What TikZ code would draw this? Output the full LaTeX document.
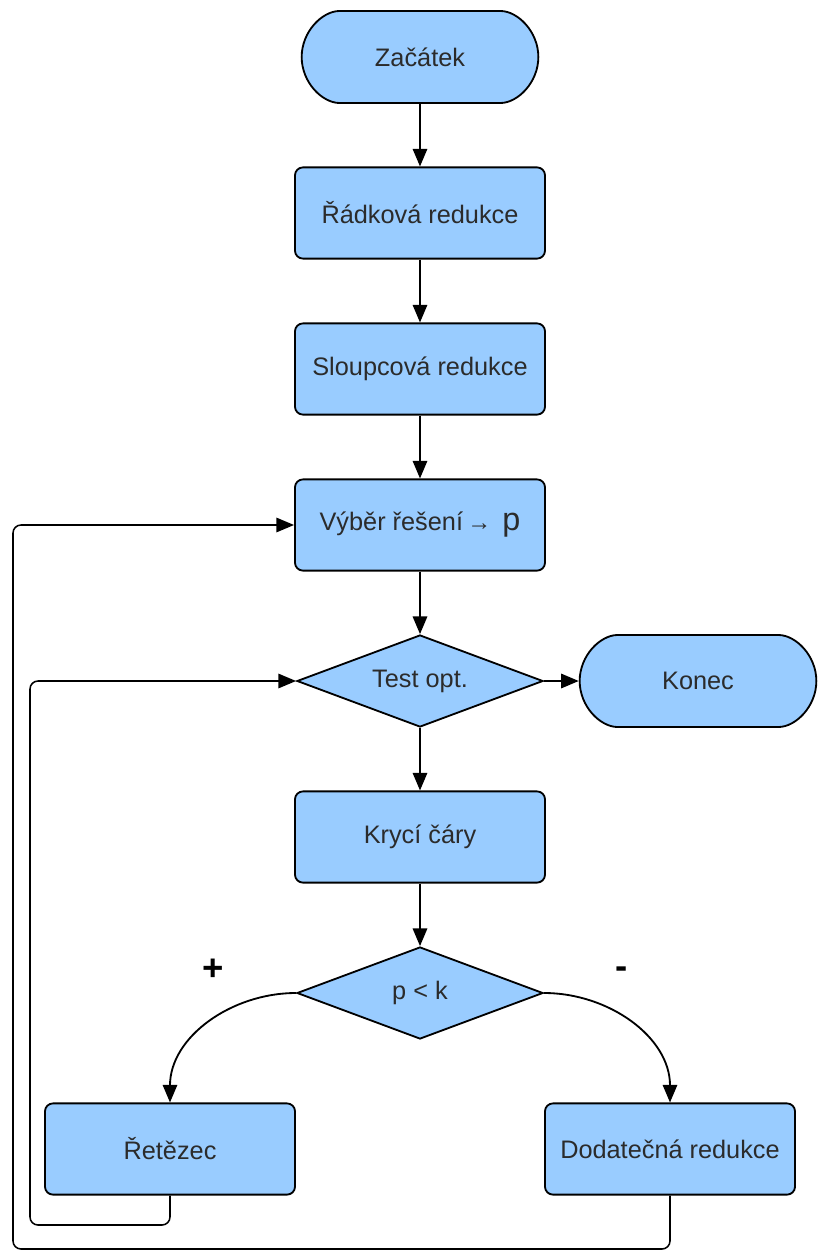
\documentclass[tikz,border=0pt]{standalone}
\usepackage{fontspec}
\setmainfont{Liberation Sans}
\usetikzlibrary{shapes.geometric,shapes.misc,arrows.meta}

\definecolor{boxblue}{HTML}{99CCFF}
\definecolor{boxtext}{HTML}{2B2B2B}

\begin{document}
\begin{tikzpicture}[x=0.025cm,y=-0.025cm]

		% INPUTS:
		\newcommand{\boxw}{6.25cm};		% width of the blocks
		\newcommand{\boxh}{2.28cm};		% height of the blocks
		\newcommand{\midx}{420};		% main column

		% styles
		\tikzstyle{block}=[draw,line width=1.3pt,fill=boxblue,rounded corners=0.2cm,minimum width=\boxw,minimum height=\boxh,text=boxtext,font=\fontsize{18}{21}\selectfont];
		\tikzstyle{terminal}=[block,rounded rectangle,minimum width=6.15cm,minimum height=2.3cm];
		\tikzstyle{decision}=[draw,line width=1.3pt,fill=boxblue,diamond,aspect=2.7,inner sep=0pt,minimum width=6.15cm,minimum height=2.3cm,text=boxtext,font=\fontsize{18}{21}\selectfont];
		\tikzstyle{flow}=[line width=1.3pt,-{Triangle[length=0.44cm,width=0.36cm]}];
		\tikzstyle{loop}=[line width=1.1pt,rounded corners=0.2cm];

		\useasboundingbox (0,0) rectangle (818,1254);

		% main column
		\node[terminal] (start) at (\midx,57) {Začátek};
		\node[block] (rowred) at (\midx,213) {Řádková redukce};
		\node[block] (colred) at (\midx,369) {Sloupcová redukce};
		\node[block] (pick) at (\midx,525) {Výběr řešení\,{\fontsize{17}{19}\selectfont→}\, {\fontsize{23}{25}\selectfont p}};
		\node[decision] (test) at (\midx,681) {Test opt.};
		\node[terminal] (konec) at (698,681) {Konec};
		\node[block] (cover) at (\midx,837) {Krycí čáry};
		\node[decision] (cmp) at (\midx,993) {p < k};

		% the two branches
		\node[block] (chain) at (170,1149) {Řetězec};
		\node[block] (extra) at (670,1149) {Dodatečná redukce};
		\node[font=\fontsize{26}{28}\selectfont\bfseries] (plus) at (213,970) {+};
		\node[font=\fontsize{26}{28}\selectfont\bfseries] (minus) at (622,973) {-};

		% corner points of the two loops
		\coordinate (loopA) at (30,1225);
		\coordinate (loopB) at (13,1249);

		% connectors
		\draw[flow] (start) -- (rowred);
		\draw[flow] (rowred) -- (colred);
		\draw[flow] (colred) -- (pick);
		\draw[flow] (pick) -- (test);
		\draw[flow] (test) -- (konec);
		\draw[flow] (test) -- (cover);
		\draw[flow] (cover) -- (cmp);
		\draw[flow] (cmp.west) to[out=180,in=90] (chain.north);
		\draw[flow] (cmp.east) to[out=0,in=90] (extra.north);

		% loops back
		\draw[loop,-{Triangle[length=0.44cm,width=0.36cm]}] (chain.south) |- (loopA) |- (test.west);
		\draw[loop,-{Triangle[length=0.44cm,width=0.36cm]}] (extra.south) |- (loopB) |- (pick.west);

\end{tikzpicture}
\end{document}
